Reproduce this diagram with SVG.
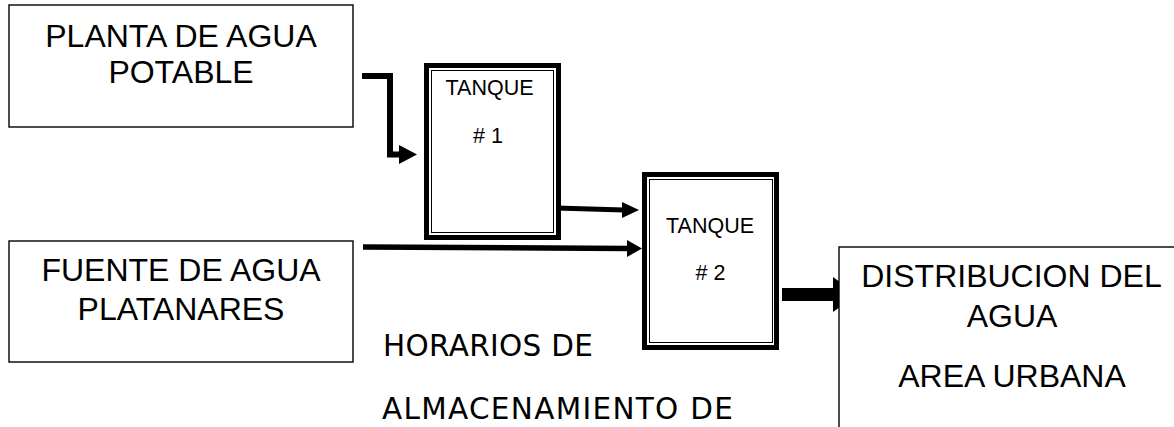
<svg xmlns="http://www.w3.org/2000/svg" width="1174" height="427" viewBox="0 0 1174 427">
<style>
.box{fill:#fff;stroke:#000;stroke-width:1.4}
.tk{fill:#fff;stroke:#000;stroke-width:5}
.tki{fill:none;stroke:#000;stroke-width:1}
.big{font-family:"Liberation Sans",Arial,sans-serif;font-size:32px;fill:#000;text-anchor:middle}
.sm{font-family:"Liberation Sans",Arial,sans-serif;font-size:21.5px;fill:#000;text-anchor:middle}
.geo{font-family:"DejaVu Sans",Lato,sans-serif;font-size:29.5px;fill:#000}
.ln{fill:none;stroke:#000}
</style>
<rect width="1174" height="427" fill="#fff"/>
<g id="connectors">
<polyline class="ln" stroke-width="6" points="362,76 390,76 390,154.5 401,154.5"/>
<polygon points="399,145 417,154.5 399,164"/>
<path class="ln" stroke-width="5" d="M556,208 L624,210"/>
<polygon points="622,202 639,210 622,218"/>
<path class="ln" stroke-width="5.5" d="M363,247 L629,248.5"/>
<polygon points="627,240 642,248.5 627,257"/>
<rect x="782" y="288" width="53" height="13"/>
<polygon points="833,277 857,294.5 833,312"/>
</g>
<g id="planta">
<rect class="box" x="9" y="5" width="344" height="122"/>
<text class="big" x="181" y="47">PLANTA DE AGUA</text>
<text class="big" x="181" y="83">POTABLE</text>
</g>
<g id="fuente">
<rect class="box" x="9" y="241" width="344" height="121"/>
<text class="big" x="181" y="281">FUENTE DE AGUA</text>
<text class="big" x="181" y="320">PLATANARES</text>
</g>
<g id="tanque1">
<rect class="tk" x="426.5" y="65.5" width="132" height="172"/>
<rect class="tki" x="431.5" y="70.5" width="122" height="162"/>
<text class="sm" x="489.5" y="95">TANQUE</text>
<text class="sm" x="488" y="143"># 1</text>
</g>
<g id="tanque2">
<rect class="tk" x="644.5" y="174.5" width="132" height="173"/>
<rect class="tki" x="649.5" y="179.5" width="123" height="163"/>
<text class="sm" x="710" y="233">TANQUE</text>
<text class="sm" x="710.5" y="280"># 2</text>
</g>
<g id="distribucion">
<rect class="box" x="839" y="247" width="400" height="300"/>
<text class="big" x="1011.5" y="287">DISTRIBUCION DEL</text>
<text class="big" x="1012" y="327">AGUA</text>
<text class="big" x="1012" y="387">AREA URBANA</text>
</g>
<g id="horarios">
<text class="geo" x="383" y="356" textLength="210" lengthAdjust="spacing">HORARIOS DE</text>
<text class="geo" x="382" y="418.5" textLength="351" lengthAdjust="spacing">ALMACENAMIENTO DE</text>
</g>
</svg>
